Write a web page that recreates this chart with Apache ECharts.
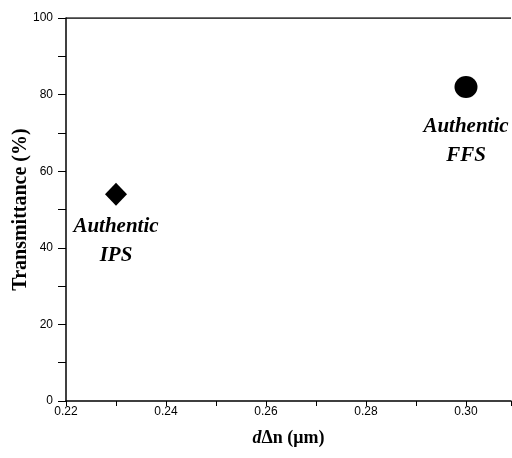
<!DOCTYPE html>
<html><head><meta charset="utf-8">
<script src="https://cdn.jsdelivr.net/npm/echarts@6/dist/echarts.min.js"></script>
<style>html,body{margin:0;padding:0;background:#fff}#c{width:512px;height:458px}</style>
</head><body><div id="c"></div>
<script>
const names = ['Authentic\nIPS', 'Authentic\nFFS'];
const dDeltaN = [0.23, 0.30];
const transmittance = [54, 82];
const symbols = ['diamond', 'circle'];
const symbolSizes = [[22, 23], [23, 22]];
const xTicks = [0.22, 0.24, 0.26, 0.28, 0.30];
const yTicks = [0, 20, 40, 60, 80, 100];

const chart = echarts.init(document.getElementById('c'));
const series = dDeltaN.map((x, i) => ({
  type: 'scatter',
  symbol: symbols[i],
  symbolSize: symbolSizes[i],
  itemStyle: {color: '#000', opacity: 1},
  data: [[x, transmittance[i]]],
  label: {
    show: true, position: 'bottom', distance: i === 0 ? 6 : 14,
    formatter: names[i],
    fontFamily: 'Liberation Serif', fontStyle: 'italic', fontWeight: 'bold',
    fontSize: 21, lineHeight: 29, color: '#000', align: 'center'
  }
}));
chart.setOption({
  animation: false,
  grid: {left: 66, right: 1, top: 18, bottom: 57, containLabel: false, outerBoundsMode: 'none'},
  xAxis: {
    type: 'value', min: 0.22, max: 0.309, interval: 0.01,
    axisLine: {show: true, lineStyle: {color: '#000', width: 1.5}},
    axisTick: {show: true, length: 5, lineStyle: {color: '#000'}},
    splitLine: {show: false},
    axisLabel: {
      color: '#000', fontFamily: 'Liberation Sans', fontSize: 12, margin: 5,
      formatter: v => {
        const r = Math.round(v * 100) / 100;
        return xTicks.some(t => Math.abs(t - r) < 1e-9) && Math.abs(v - r) < 1e-6 ? r.toFixed(2) : '';
      }
    },
    name: '{i|d}{n|Δn (μm)}', nameLocation: 'middle', nameGap: 28, nameMoveOverlap: false,
    nameTextStyle: {
      rich: {
        i: {fontFamily: 'Liberation Serif', fontStyle: 'italic', fontWeight: 'bold', fontSize: 18, color: '#000'},
        n: {fontFamily: 'Liberation Serif', fontWeight: 'bold', fontSize: 18, color: '#000'}
      }
    }
  },
  yAxis: {
    type: 'value', min: 0, max: 100, interval: 10,
    axisLine: {show: true, lineStyle: {color: '#000', width: 1.5}},
    axisTick: {show: true, length: 8, lineStyle: {color: '#000'}},
    splitLine: {show: false},
    axisLabel: {
      color: '#000', fontFamily: 'Liberation Sans', fontSize: 12, margin: 13,
      formatter: v => yTicks.includes(v) ? String(v) : ''
    },
    name: 'Transmittance (%)', nameLocation: 'middle', nameGap: 35, nameMoveOverlap: false,
    nameTextStyle: {fontFamily: 'Liberation Serif', fontWeight: 'bold', fontSize: 20, color: '#000'}
  },
  series: series.concat([{
    type: 'line', data: [[0.22, 100], [0.309, 100]], symbol: 'none', silent: true,
    lineStyle: {color: '#000', width: 1.5}
  }])
});
</script></body></html>
